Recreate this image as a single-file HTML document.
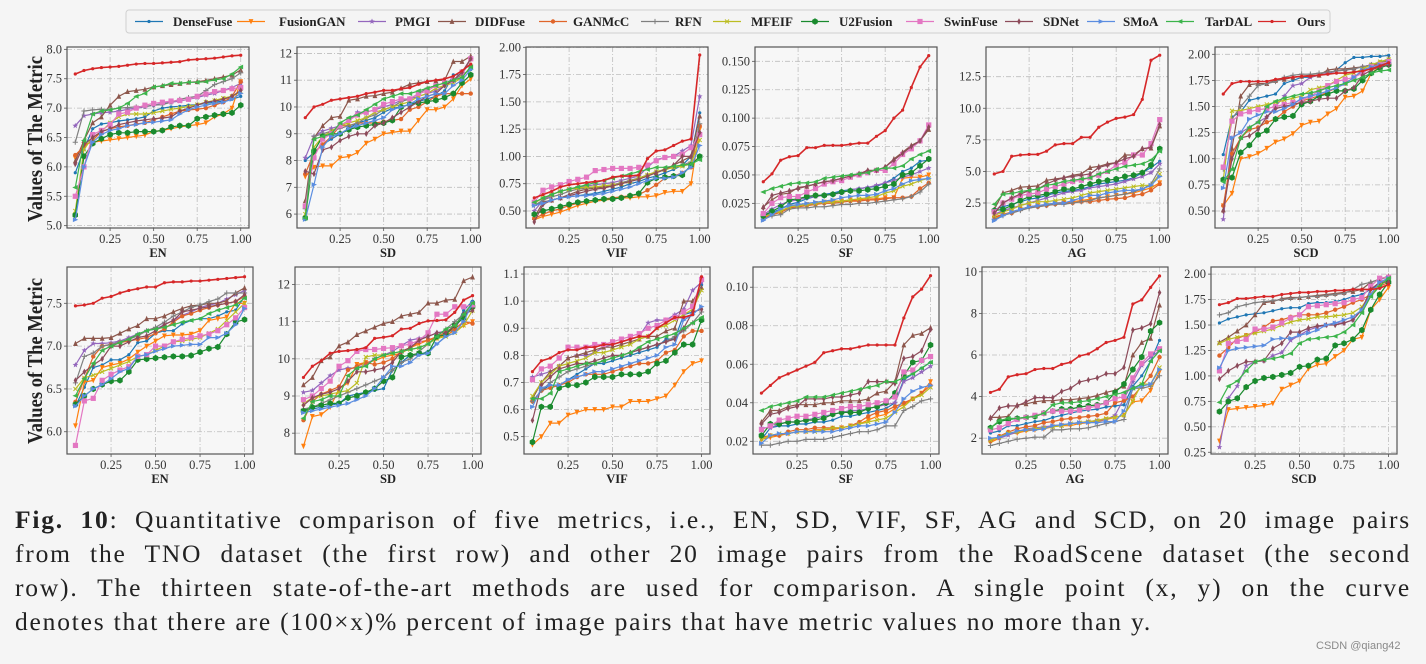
<!DOCTYPE html>
<html><head><meta charset="utf-8">
<style>
html,body{margin:0;padding:0;background:#f5f5f5;}
#root{position:relative;width:1426px;height:664px;overflow:hidden;background:#f5f5f5;font-family:"Liberation Serif",serif;}
svg{position:absolute;left:0;top:0;}
.cap{position:absolute;left:15px;width:1396px;font-size:25.5px;letter-spacing:1.8px;color:#222;font-family:"Liberation Serif",serif;white-space:nowrap;text-align:justify;text-align-last:justify;line-height:30px;}
.cap b{font-weight:bold;}
#wm{position:absolute;left:1316px;top:640px;font:11px "Liberation Sans",sans-serif;color:#8a8a8a;}
</style></head>
<body>
<div id="root">
<svg id="chart" width="1426" height="500"></svg>
<div class="cap" style="top:505px"><b>Fig. 10</b>: Quantitative comparison of five metrics, i.e., EN, SD, VIF, SF, AG and SCD, on 20 image pairs</div>
<div class="cap" style="top:539px">from the TNO dataset (the first row) and other 20 image pairs from the RoadScene dataset (the second</div>
<div class="cap" style="top:573px">row). The thirteen state-of-the-art methods are used for comparison. A single point (x, y) on the curve</div>
<div class="cap" style="top:607px;width:auto;text-align:left;text-align-last:left;">denotes that there are (100×x)% percent of image pairs that have metric values no more than y.</div>
<div id="wm">CSDN @qiang42</div>
</div>
<script>
const methods=["DenseFuse","FusionGAN","PMGI","DIDFuse","GANMcC","RFN","MFEIF","U2Fusion","SwinFuse","SDNet","SMoA","TarDAL","Ours"];
const xValues=[0.05,0.10,0.15,0.20,0.25,0.30,0.35,0.40,0.45,0.50,0.55,0.60,0.65,0.70,0.75,0.80,0.85,0.90,0.95,1.00];
const xTicks=[0.25,0.50,0.75,1.00];
const xTickLabels=["0.25","0.50","0.75","1.00"];
const metricNames=["EN","SD","VIF","SF","AG","SCD"];
const yDomainsRow1=[[4.96,8.04],[5.48,12.24],[0.344,2.003],[0.0033,0.1626],[0.52,14.85],[0.337,2.07]];
const yDomainsRow2=[[5.74,7.924],[7.44,12.47],[0.436,1.126],[0.0134,0.1105],[1.24,10.23],[0.233,2.07]];
const yTicksRow1=[[5.0,5.5,6.0,6.5,7.0,7.5,8.0],[6,7,8,9,10,11,12],[0.5,0.75,1.0,1.25,1.5,1.75,2.0],[0.025,0.05,0.075,0.1,0.125,0.15],[2.5,5,7.5,10,12.5],[0.5,0.75,1.0,1.25,1.5,1.75,2.0]];
const yTickLabelsRow1=[["5.0","5.5","6.0","6.5","7.0","7.5","8.0"],["6","7","8","9","10","11","12"],["0.50","0.75","1.00","1.25","1.50","1.75","2.00"],["0.025","0.050","0.075","0.100","0.125","0.150"],["2.5","5.0","7.5","10.0","12.5"],["0.50","0.75","1.00","1.25","1.50","1.75","2.00"]];
const yTicksRow2=[[6.0,6.5,7.0,7.5],[8,9,10,11,12],[0.5,0.6,0.7,0.8,0.9,1.0,1.1],[0.02,0.04,0.06,0.08,0.10],[2,4,6,8,10],[0.25,0.5,0.75,1.0,1.25,1.5,1.75,2.0]];
const yTickLabelsRow2=[["6.0","6.5","7.0","7.5"],["8","9","10","11","12"],["0.5","0.6","0.7","0.8","0.9","1.0","1.1"],["0.02","0.04","0.06","0.08","0.10"],["2","4","6","8","10"],["0.25","0.50","0.75","1.00","1.25","1.50","1.75","2.00"]];

const enTNO=[
[5.9,6.3,6.65,6.73,6.75,6.78,6.8,6.82,6.85,6.95,7.0,7.02,7.03,7.05,7.06,7.08,7.1,7.12,7.15,7.2],
[6.15,6.38,6.42,6.44,6.46,6.48,6.5,6.52,6.54,6.6,6.62,6.65,6.68,6.7,6.72,6.75,6.85,6.9,7.0,7.45],
[6.7,6.87,6.9,6.92,6.93,6.95,6.98,7.0,7.02,7.05,7.08,7.1,7.12,7.15,7.18,7.22,7.25,7.3,7.35,7.42],
[6.1,6.45,6.75,6.85,7.05,7.2,7.28,7.3,7.32,7.36,7.38,7.4,7.42,7.44,7.45,7.47,7.5,7.53,7.56,7.65],
[6.2,6.35,6.45,6.6,6.65,6.68,6.7,6.73,6.75,6.8,6.85,6.9,6.95,6.97,6.98,7.0,7.05,7.1,7.2,7.45],
[6.42,6.95,6.97,6.98,6.98,7.0,7.01,7.02,7.03,7.05,7.06,7.1,7.15,7.18,7.2,7.3,7.4,7.45,7.5,7.6],
[5.25,6.3,6.5,6.6,6.75,6.85,6.9,6.9,6.9,6.92,6.95,6.98,7.0,7.03,7.06,7.1,7.13,7.17,7.2,7.28],
[5.18,6.18,6.4,6.48,6.55,6.58,6.58,6.6,6.6,6.6,6.62,6.68,6.7,6.7,6.82,6.85,6.88,6.9,6.92,7.05],
[5.5,6.0,6.55,6.62,6.72,6.9,6.93,7.0,7.05,7.08,7.1,7.12,7.13,7.15,7.2,7.24,7.28,7.3,7.33,7.35],
[6.05,6.38,6.5,6.6,6.65,6.72,6.75,6.78,6.8,6.82,6.83,6.85,6.95,7.0,7.05,7.1,7.12,7.15,7.2,7.3],
[5.1,6.0,6.42,6.55,6.62,6.65,6.7,6.72,6.75,6.76,6.78,6.8,6.9,6.97,7.02,7.05,7.08,7.1,7.15,7.25],
[5.65,6.45,6.9,6.95,6.97,7.0,7.08,7.2,7.25,7.36,7.38,7.42,7.42,7.44,7.44,7.45,7.48,7.5,7.58,7.7],
[7.58,7.64,7.67,7.69,7.7,7.71,7.73,7.75,7.76,7.76,7.77,7.78,7.79,7.82,7.83,7.84,7.85,7.87,7.89,7.9]];
const sdTNO=[
[8.0,8.3,8.6,8.8,9.0,9.2,9.4,9.5,9.6,9.8,9.95,10.0,10.1,10.2,10.3,10.4,10.6,11.2,11.2,11.4],
[7.4,7.75,7.8,7.8,8.1,8.15,8.3,8.65,8.8,9.0,9.05,9.1,9.1,9.5,9.9,9.9,10.0,10.3,10.8,11.05],
[8.1,8.9,9.1,9.2,9.3,9.5,9.8,9.8,9.9,10.0,10.1,10.25,10.3,10.4,10.5,10.6,10.8,11.0,11.3,11.8],
[6.5,8.85,9.3,9.6,9.65,10.25,10.3,10.4,10.42,10.5,10.55,10.7,10.85,10.9,10.95,10.98,11.0,11.7,11.7,11.9],
[7.5,8.3,8.6,8.9,9.3,9.3,9.4,9.4,9.4,9.45,9.5,9.55,9.9,10.0,10.2,10.4,10.5,10.5,10.5,10.5],
[6.2,8.9,9.0,9.1,9.2,9.3,9.4,9.6,9.7,9.9,10.0,10.2,10.3,10.5,10.7,10.8,10.9,11.0,11.2,11.8],
[6.0,8.5,8.9,9.1,9.3,9.4,9.5,9.6,9.8,9.9,10.0,10.1,10.2,10.4,10.5,10.7,10.8,10.9,11.1,11.5],
[5.85,8.35,8.9,9.0,9.0,9.15,9.25,9.3,9.35,9.4,9.5,10.0,10.1,10.15,10.2,10.25,10.35,10.5,10.9,11.2],
[6.3,8.1,8.8,9.0,9.3,9.5,9.7,9.8,9.9,10.1,10.2,10.3,10.3,10.5,10.6,10.8,10.9,11.0,11.3,11.8],
[7.6,7.5,8.4,8.5,8.75,8.9,9.0,9.0,9.3,9.4,9.6,9.8,10.0,10.2,10.4,10.5,10.8,11.0,11.3,11.8],
[5.8,7.1,8.5,8.9,9.0,9.2,9.3,9.4,9.5,9.6,9.9,10.0,10.1,10.3,10.4,10.5,10.5,10.8,11.0,11.4],
[5.85,8.8,8.9,9.0,9.4,9.6,9.7,9.9,10.1,10.3,10.4,10.5,10.5,10.6,10.7,10.8,10.9,11.0,11.1,11.5],
[9.6,10.0,10.1,10.25,10.3,10.35,10.4,10.5,10.55,10.62,10.62,10.68,10.72,10.85,10.95,11.0,11.05,11.15,11.35,11.6]];
const vifTNO=[
[0.56,0.58,0.6,0.62,0.63,0.64,0.65,0.66,0.68,0.7,0.72,0.75,0.77,0.8,0.82,0.85,0.88,0.92,1.0,1.4],
[0.42,0.45,0.47,0.49,0.52,0.55,0.57,0.59,0.6,0.61,0.62,0.62,0.63,0.63,0.64,0.67,0.68,0.68,0.75,1.25],
[0.5,0.6,0.65,0.68,0.7,0.72,0.73,0.74,0.75,0.76,0.78,0.8,0.82,0.9,0.97,0.99,1.0,1.05,1.1,1.55],
[0.44,0.58,0.6,0.62,0.65,0.68,0.7,0.71,0.72,0.73,0.75,0.78,0.8,0.83,0.85,0.88,0.92,0.96,1.0,1.37],
[0.43,0.47,0.5,0.52,0.55,0.57,0.59,0.6,0.61,0.62,0.63,0.64,0.65,0.69,0.74,0.8,0.82,0.85,0.9,1.28],
[0.55,0.6,0.63,0.65,0.68,0.7,0.71,0.72,0.73,0.74,0.76,0.78,0.8,0.83,0.86,0.88,0.9,0.92,0.95,1.3],
[0.57,0.62,0.65,0.68,0.7,0.71,0.72,0.72,0.73,0.74,0.75,0.77,0.8,0.83,0.86,0.88,0.9,0.91,0.93,1.15],
[0.47,0.5,0.52,0.54,0.56,0.58,0.59,0.6,0.61,0.61,0.62,0.64,0.66,0.76,0.8,0.81,0.82,0.83,0.92,1.0],
[0.58,0.69,0.72,0.74,0.77,0.79,0.81,0.87,0.88,0.89,0.89,0.89,0.9,0.92,0.96,0.99,1.0,1.02,1.08,1.2],
[0.4,0.56,0.6,0.62,0.64,0.66,0.68,0.7,0.71,0.73,0.75,0.77,0.79,0.82,0.85,0.88,0.92,1.0,1.0,1.22],
[0.55,0.57,0.6,0.62,0.63,0.64,0.64,0.65,0.66,0.68,0.7,0.72,0.75,0.78,0.8,0.8,0.81,0.85,0.9,1.1],
[0.58,0.62,0.65,0.68,0.7,0.72,0.74,0.76,0.78,0.8,0.82,0.84,0.86,0.88,0.9,0.9,0.91,0.92,0.93,0.97],
[0.62,0.65,0.68,0.72,0.74,0.75,0.76,0.77,0.78,0.81,0.82,0.82,0.83,0.98,1.05,1.06,1.1,1.14,1.16,1.93]];
const sfTNO=[
[.013,.017,.02,.024,.026,.029,.031,.033,.034,.036,.037,.038,.039,.04,.043,.047,.053,.056,.062,.063],
[.012,.016,.018,.022,.023,.024,.025,.026,.027,.027,.028,.028,.029,.029,.03,.03,.047,.048,.048,.05],
[.015,.02,.024,.027,.028,.03,.031,.032,.033,.034,.037,.038,.039,.041,.043,.045,.048,.05,.053,.056],
[.022,.028,.033,.034,.039,.04,.042,.044,.045,.047,.049,.051,.053,.054,.057,.064,.07,.076,.08,.09],
[.012,.015,.017,.021,.022,.023,.024,.025,.025,.026,.027,.027,.028,.028,.029,.03,.03,.031,.038,.043],
[.011,.014,.015,.02,.021,.021,.022,.022,.023,.024,.024,.025,.025,.026,.027,.028,.029,.031,.035,.042],
[.013,.016,.018,.022,.023,.024,.025,.026,.026,.027,.028,.029,.03,.031,.034,.036,.04,.042,.045,.047],
[.014,.018,.022,.028,.029,.031,.032,.032,.033,.035,.036,.036,.037,.038,.04,.042,.05,.052,.058,.064],
[.016,.025,.03,.031,.031,.035,.038,.042,.044,.045,.048,.05,.052,.054,.054,.06,.068,.073,.08,.094],
[.021,.032,.034,.036,.038,.04,.042,.044,.045,.047,.049,.051,.054,.054,.057,.063,.069,.075,.08,.092],
[.01,.015,.02,.023,.024,.025,.026,.027,.028,.03,.031,.032,.032,.033,.036,.038,.042,.045,.046,.047],
[.035,.038,.04,.042,.043,.043,.044,.047,.048,.049,.05,.051,.052,.055,.056,.056,.058,.064,.068,.071],
[.044,.051,.063,.066,.067,.074,.074,.076,.076,.076,.077,.078,.078,.084,.089,.1,.107,.127,.145,.155]];
const agTNO=[
[2.0,2.2,2.4,2.6,2.8,2.9,3.1,3.3,3.4,3.5,3.6,3.8,4.0,4.1,4.2,4.3,4.5,4.9,5.3,5.8],
[1.3,1.6,1.8,2.0,2.2,2.3,2.35,2.5,2.55,2.6,2.7,2.8,2.9,3.0,3.1,3.2,3.3,3.5,3.7,4.1],
[1.6,1.9,2.1,2.3,2.5,2.7,2.9,3.1,3.3,3.4,3.5,3.7,3.8,3.9,4.0,4.2,4.4,4.6,4.9,5.6],
[2.0,3.3,3.5,3.75,3.8,3.85,4.3,4.4,4.5,4.7,4.8,5.3,5.4,5.6,5.7,6.3,6.3,6.8,6.85,8.6],
[1.4,1.6,1.7,2.0,2.2,2.2,2.3,2.4,2.5,2.5,2.6,2.6,2.7,2.8,2.85,2.9,3.1,3.2,3.5,4.0],
[1.2,1.5,1.7,1.9,2.1,2.2,2.3,2.4,2.4,2.5,2.6,2.7,2.9,3.0,3.1,3.2,3.4,3.6,4.0,5.2],
[1.5,1.8,2.0,2.3,2.5,2.6,2.6,2.7,2.8,2.9,3.1,3.3,3.4,3.5,3.6,3.7,3.8,3.9,3.9,4.8],
[1.9,2.0,2.3,2.7,3.0,3.1,3.2,3.4,3.6,3.6,3.8,4.0,4.2,4.3,4.4,4.6,4.7,4.9,5.5,6.8],
[1.8,2.5,2.8,3.1,3.2,3.3,3.6,3.8,4.0,4.2,4.3,4.5,4.7,5.0,5.5,5.7,6.3,6.3,7.2,9.1],
[1.7,2.5,2.9,3.2,3.5,3.6,4.0,4.3,4.5,4.6,4.7,4.8,5.3,5.5,5.7,6.0,6.2,6.8,6.9,8.7],
[1.1,1.5,1.8,2.0,2.2,2.3,2.4,2.5,2.5,2.7,2.9,3.1,3.1,3.3,3.4,3.5,3.5,3.6,3.9,4.6],
[2.4,3.2,3.25,3.4,3.5,3.6,3.9,4.0,4.2,4.3,4.4,4.5,4.8,5.0,5.2,5.4,5.5,5.6,5.9,6.6],
[4.8,5.0,6.2,6.3,6.35,6.35,6.6,7.1,7.2,7.2,7.7,7.7,8.5,8.9,9.2,9.3,9.5,10.7,13.8,14.2]];
const scdTNO=[
[1.04,1.4,1.45,1.56,1.58,1.6,1.62,1.72,1.75,1.78,1.78,1.8,1.81,1.85,1.92,1.97,1.97,1.98,1.98,1.99],
[0.55,0.67,1.0,1.02,1.05,1.1,1.16,1.19,1.24,1.32,1.35,1.36,1.43,1.48,1.59,1.6,1.65,1.82,1.88,1.92],
[0.42,1.2,1.25,1.3,1.35,1.4,1.5,1.6,1.7,1.72,1.78,1.8,1.82,1.84,1.85,1.86,1.88,1.9,1.92,1.94],
[0.51,1.1,1.6,1.71,1.72,1.72,1.75,1.76,1.78,1.79,1.8,1.8,1.85,1.86,1.86,1.87,1.88,1.9,1.92,1.96],
[0.55,1.05,1.2,1.28,1.3,1.35,1.38,1.45,1.5,1.55,1.58,1.6,1.64,1.68,1.72,1.78,1.84,1.88,1.92,1.94],
[0.9,1.38,1.5,1.6,1.7,1.72,1.74,1.78,1.8,1.81,1.81,1.82,1.83,1.84,1.85,1.86,1.88,1.9,1.92,1.95],
[0.8,1.46,1.46,1.48,1.5,1.52,1.54,1.56,1.58,1.6,1.66,1.68,1.7,1.75,1.8,1.82,1.86,1.9,1.93,1.95],
[0.8,0.82,1.06,1.13,1.23,1.27,1.38,1.4,1.41,1.52,1.55,1.6,1.62,1.65,1.65,1.67,1.75,1.82,1.87,1.9],
[0.92,1.36,1.43,1.45,1.47,1.48,1.5,1.52,1.54,1.56,1.6,1.65,1.7,1.74,1.76,1.78,1.82,1.88,1.9,1.93],
[0.5,1.0,1.2,1.22,1.28,1.4,1.48,1.5,1.52,1.54,1.55,1.57,1.58,1.58,1.65,1.68,1.8,1.85,1.88,1.9],
[0.72,1.2,1.25,1.38,1.42,1.45,1.45,1.48,1.52,1.58,1.6,1.62,1.65,1.68,1.72,1.78,1.85,1.88,1.9,1.92],
[0.78,0.9,1.2,1.3,1.35,1.5,1.55,1.58,1.6,1.62,1.63,1.65,1.68,1.7,1.72,1.75,1.78,1.82,1.84,1.85],
[1.62,1.72,1.74,1.74,1.74,1.74,1.76,1.77,1.78,1.79,1.79,1.8,1.81,1.82,1.82,1.83,1.84,1.86,1.89,1.92]];
const enRoad=[
[6.3,6.52,6.75,6.78,6.84,6.84,6.9,7.04,7.06,7.15,7.18,7.18,7.26,7.3,7.32,7.32,7.35,7.4,7.42,7.58],
[6.07,6.58,6.6,6.75,6.78,6.8,6.85,6.93,7.0,7.06,7.12,7.13,7.13,7.14,7.18,7.3,7.32,7.34,7.5,7.5],
[6.78,6.95,7.03,7.03,7.04,7.06,7.1,7.14,7.18,7.2,7.25,7.3,7.36,7.4,7.45,7.48,7.5,7.55,7.6,7.65],
[7.03,7.09,7.09,7.09,7.1,7.15,7.2,7.24,7.32,7.32,7.35,7.4,7.44,7.47,7.48,7.5,7.5,7.53,7.62,7.68],
[6.35,6.62,6.88,7.0,7.02,7.04,7.06,7.08,7.1,7.15,7.2,7.28,7.35,7.38,7.42,7.45,7.48,7.5,7.52,7.58],
[6.57,6.88,6.92,7.0,7.02,7.05,7.08,7.12,7.18,7.22,7.28,7.35,7.4,7.45,7.48,7.52,7.55,7.62,7.62,7.62],
[6.5,6.63,6.66,6.7,6.74,6.78,6.82,6.88,6.9,6.95,7.0,7.05,7.06,7.08,7.1,7.15,7.2,7.3,7.4,7.5],
[6.32,6.42,6.5,6.55,6.59,6.6,6.7,6.84,6.85,6.86,6.87,6.88,6.88,6.89,6.93,6.97,6.99,7.14,7.28,7.31],
[5.84,6.36,6.39,6.6,6.67,6.72,6.76,6.88,6.9,7.0,7.0,7.05,7.08,7.1,7.12,7.14,7.18,7.25,7.33,7.45],
[6.6,6.7,6.78,6.85,7.0,7.0,7.05,7.1,7.12,7.18,7.25,7.3,7.4,7.42,7.44,7.46,7.48,7.5,7.52,7.6],
[6.3,6.42,6.5,6.55,6.62,6.7,6.74,6.88,6.9,6.94,6.97,7.0,7.01,7.02,7.02,7.1,7.1,7.15,7.25,7.44],
[6.42,6.62,6.8,6.95,7.0,7.04,7.08,7.14,7.18,7.2,7.22,7.25,7.28,7.3,7.32,7.38,7.42,7.45,7.48,7.56],
[7.47,7.48,7.5,7.56,7.58,7.62,7.65,7.67,7.69,7.69,7.74,7.75,7.75,7.76,7.76,7.77,7.78,7.79,7.8,7.81]];
const sdRoad=[
[8.6,8.65,8.7,8.75,8.8,9.0,9.05,9.1,9.15,9.2,9.7,9.9,10.1,10.1,10.2,10.4,10.6,10.8,11.3,11.55],
[7.65,8.45,8.5,8.7,9.2,9.35,9.85,9.9,9.95,10.05,10.1,10.15,10.3,10.4,10.5,10.55,10.65,10.75,10.9,11.0],
[9.1,9.15,9.35,9.55,9.7,9.75,9.75,9.85,10.0,10.1,10.2,10.35,10.5,10.55,10.6,10.7,10.75,10.8,11.2,11.5],
[9.3,9.5,9.95,10.05,10.35,10.45,10.65,10.75,10.85,10.95,11.0,11.15,11.2,11.25,11.5,11.5,11.58,11.6,12.1,12.2],
[8.35,8.85,9.05,9.15,9.25,9.7,9.8,9.9,9.85,9.9,10.0,10.2,10.3,10.45,10.5,10.6,10.7,10.8,11.0,10.95],
[8.65,8.7,8.8,8.9,9.0,9.1,9.2,9.3,9.4,9.5,9.7,9.9,10.0,10.2,10.4,10.6,10.8,11.0,11.2,11.4],
[8.8,8.95,9.0,9.05,9.1,9.15,9.35,10.05,10.1,10.1,10.15,10.2,10.25,10.3,10.4,10.55,10.6,10.7,10.9,11.3],
[8.6,8.7,8.75,8.8,8.8,8.95,9.0,9.1,9.2,9.4,9.5,10.05,10.1,10.15,10.15,10.6,10.65,10.9,11.1,11.4],
[8.9,9.0,9.2,9.4,9.8,9.95,10.2,10.25,10.25,10.28,10.3,10.35,10.4,10.5,10.7,11.2,11.2,11.4,11.4,11.45],
[8.75,8.95,9.05,9.1,9.2,9.4,9.65,9.65,9.7,9.75,9.9,10.2,10.3,10.5,10.6,10.7,10.7,10.9,11.2,11.3],
[8.55,8.6,8.65,8.7,8.75,8.8,8.9,9.0,9.2,9.5,9.8,9.8,9.9,10.1,10.15,10.4,10.6,10.7,11.0,11.5],
[8.4,8.85,8.9,9.0,9.0,9.55,9.75,9.8,10.0,10.1,10.15,10.2,10.25,10.3,10.4,10.6,10.8,10.9,11.2,11.5],
[9.5,9.8,9.95,10.15,10.2,10.22,10.25,10.3,10.55,10.58,10.62,10.8,10.82,10.95,11.02,11.03,11.05,11.25,11.58,11.7]];
const vifRoad=[
[0.63,0.67,0.69,0.69,0.71,0.73,0.75,0.77,0.77,0.78,0.79,0.8,0.81,0.82,0.83,0.86,0.86,0.95,0.96,1.06],
[0.47,0.5,0.55,0.55,0.58,0.59,0.6,0.6,0.6,0.61,0.61,0.63,0.63,0.63,0.64,0.65,0.69,0.74,0.77,0.78],
[0.72,0.73,0.74,0.76,0.79,0.8,0.8,0.81,0.83,0.84,0.85,0.86,0.87,0.92,0.93,0.93,0.95,0.97,1.04,1.07],
[0.64,0.7,0.74,0.76,0.79,0.8,0.81,0.82,0.83,0.83,0.84,0.85,0.86,0.87,0.87,0.89,0.9,1.0,1.0,1.05],
[0.63,0.67,0.68,0.69,0.7,0.72,0.73,0.73,0.73,0.74,0.75,0.76,0.77,0.77,0.78,0.81,0.82,0.87,0.89,0.89],
[0.63,0.67,0.7,0.72,0.74,0.75,0.76,0.77,0.78,0.79,0.8,0.81,0.82,0.83,0.84,0.85,0.87,0.89,0.92,0.96],
[0.65,0.7,0.73,0.76,0.77,0.78,0.79,0.81,0.81,0.82,0.83,0.84,0.86,0.87,0.9,0.91,0.93,0.95,0.97,1.04],
[0.48,0.61,0.61,0.68,0.69,0.69,0.7,0.72,0.72,0.72,0.73,0.73,0.73,0.74,0.77,0.78,0.81,0.84,0.84,0.93],
[0.71,0.75,0.76,0.79,0.83,0.83,0.83,0.84,0.84,0.85,0.86,0.87,0.88,0.9,0.91,0.93,0.94,0.96,0.98,1.08],
[0.56,0.69,0.72,0.75,0.76,0.77,0.77,0.78,0.79,0.8,0.8,0.81,0.82,0.83,0.84,0.85,0.86,0.9,0.96,0.97],
[0.61,0.68,0.69,0.69,0.71,0.72,0.73,0.74,0.74,0.75,0.76,0.77,0.78,0.79,0.8,0.83,0.84,0.93,0.95,0.98],
[0.64,0.64,0.66,0.74,0.75,0.76,0.77,0.77,0.78,0.79,0.8,0.81,0.83,0.85,0.86,0.87,0.88,0.9,0.92,0.94],
[0.74,0.78,0.79,0.81,0.82,0.82,0.83,0.83,0.84,0.84,0.85,0.86,0.87,0.87,0.9,0.92,0.94,0.94,0.95,1.09]];
const sfRoad=[
[.021,.027,.028,.028,.029,.029,.03,.03,.031,.033,.033,.034,.035,.036,.037,.04,.052,.055,.058,.061],
[.021,.022,.023,.024,.025,.025,.026,.026,.026,.027,.028,.029,.031,.033,.034,.037,.039,.042,.045,.051],
[.027,.027,.029,.03,.03,.031,.032,.033,.034,.035,.036,.036,.037,.038,.039,.04,.051,.053,.056,.059],
[.03,.036,.036,.038,.039,.039,.039,.04,.04,.041,.041,.041,.042,.045,.046,.051,.07,.075,.076,.079],
[.022,.023,.023,.025,.026,.026,.027,.027,.027,.027,.028,.03,.033,.035,.036,.038,.04,.042,.045,.049],
[.018,.018,.019,.02,.02,.021,.021,.021,.022,.023,.024,.025,.025,.026,.028,.028,.036,.038,.041,.042],
[.021,.023,.024,.024,.025,.025,.025,.026,.027,.027,.028,.029,.03,.031,.032,.035,.038,.042,.044,.048],
[.023,.029,.029,.03,.03,.031,.031,.032,.034,.035,.035,.035,.037,.038,.04,.045,.054,.061,.062,.07],
[.026,.028,.031,.032,.033,.033,.034,.035,.036,.037,.038,.038,.039,.04,.041,.043,.056,.057,.062,.064],
[.029,.034,.035,.037,.038,.042,.042,.042,.043,.043,.044,.045,.051,.051,.051,.05,.063,.064,.067,.078],
[.019,.023,.024,.024,.025,.025,.025,.025,.025,.026,.027,.028,.028,.029,.03,.035,.042,.046,.048,.049],
[.036,.038,.039,.04,.041,.043,.043,.043,.044,.045,.046,.047,.048,.049,.051,.051,.053,.055,.058,.061],
[.045,.049,.053,.055,.057,.059,.061,.066,.067,.068,.068,.069,.07,.07,.07,.07,.084,.095,.099,.106]];
const agRoad=[
[2.25,2.35,2.6,2.6,2.7,2.8,2.85,3.0,3.1,3.2,3.3,3.35,3.4,3.5,3.55,3.6,4.5,5.0,5.7,6.7],
[1.8,2.0,2.2,2.25,2.35,2.4,2.45,2.55,2.6,2.6,2.7,2.75,2.8,2.9,3.0,3.1,3.75,3.8,4.3,5.2],
[1.95,2.0,2.15,2.3,2.45,2.5,2.55,2.6,2.65,2.7,2.75,2.8,2.85,2.9,3.1,3.9,4.7,5.5,5.9,6.2],
[3.0,3.0,3.05,3.6,3.65,3.75,3.8,3.8,3.85,3.85,3.9,3.95,4.05,4.2,4.3,4.5,6.0,6.6,6.8,8.4],
[1.85,2.1,2.3,2.45,2.55,2.6,2.75,2.8,2.9,2.95,3.0,3.05,3.1,3.2,3.7,3.8,4.0,4.5,5.0,5.9],
[1.65,1.75,1.85,1.95,2.0,2.05,2.05,2.4,2.4,2.45,2.45,2.5,2.6,2.7,2.8,2.9,4.4,4.4,4.5,5.0],
[1.9,2.05,2.25,2.3,2.4,2.45,2.5,2.55,2.6,2.7,2.75,2.8,2.85,2.95,3.0,3.1,3.8,4.6,4.6,5.4],
[2.5,2.8,2.9,2.95,3.0,3.05,3.2,3.3,3.4,3.4,3.5,3.55,3.6,3.7,4.2,4.6,5.3,5.9,7.15,7.55],
[2.4,2.5,2.7,2.9,3.0,3.1,3.2,3.3,3.3,3.3,3.35,3.45,3.55,3.7,3.9,4.0,4.9,5.6,6.05,6.3],
[2.95,3.45,3.55,3.55,3.75,3.95,3.95,3.95,4.25,4.4,4.7,4.8,4.9,5.1,5.1,5.4,7.2,7.3,7.5,9.0],
[2.0,2.05,2.2,2.35,2.4,2.4,2.45,2.6,2.65,2.7,2.75,2.75,2.75,2.8,2.8,3.3,4.4,4.5,4.6,5.3],
[2.5,2.85,2.95,2.95,3.0,3.05,3.2,3.6,3.7,3.7,3.75,3.8,3.9,4.0,4.1,4.2,4.4,4.6,5.7,6.2],
[4.2,4.35,4.95,5.05,5.1,5.3,5.35,5.35,5.55,5.65,5.95,6.05,6.3,6.6,6.7,6.85,8.45,8.65,9.25,9.8]];
const scdRoad=[
[1.52,1.56,1.58,1.6,1.61,1.62,1.64,1.66,1.67,1.67,1.71,1.72,1.72,1.73,1.75,1.78,1.8,1.85,1.9,1.95],
[0.36,0.67,0.68,0.69,0.7,0.71,0.73,0.87,0.91,0.95,1.07,1.11,1.12,1.19,1.25,1.36,1.38,1.65,1.75,1.87],
[0.3,0.78,0.9,1.1,1.14,1.15,1.2,1.23,1.35,1.4,1.45,1.48,1.5,1.52,1.52,1.55,1.65,1.8,1.92,1.96],
[1.33,1.38,1.44,1.5,1.6,1.72,1.73,1.76,1.77,1.77,1.78,1.79,1.8,1.81,1.82,1.83,1.85,1.92,1.95,1.98],
[1.2,1.28,1.37,1.4,1.43,1.48,1.54,1.55,1.58,1.6,1.6,1.6,1.62,1.65,1.68,1.72,1.75,1.8,1.88,1.92],
[1.6,1.62,1.68,1.7,1.72,1.73,1.74,1.75,1.76,1.77,1.78,1.78,1.79,1.8,1.81,1.85,1.9,1.92,1.95,1.97],
[1.32,1.36,1.38,1.4,1.42,1.44,1.46,1.5,1.53,1.55,1.56,1.58,1.58,1.59,1.6,1.62,1.68,1.8,1.9,1.95],
[0.65,0.75,0.78,0.89,0.95,0.98,0.99,1.01,1.03,1.09,1.1,1.16,1.17,1.3,1.32,1.36,1.45,1.65,1.8,1.92],
[1.05,1.32,1.34,1.36,1.46,1.46,1.48,1.52,1.57,1.6,1.68,1.69,1.7,1.71,1.72,1.75,1.77,1.88,1.96,1.97],
[0.97,1.05,1.1,1.14,1.14,1.15,1.27,1.32,1.43,1.43,1.47,1.49,1.5,1.5,1.52,1.55,1.65,1.85,1.92,1.92],
[1.08,1.25,1.27,1.28,1.29,1.3,1.36,1.37,1.37,1.4,1.42,1.45,1.5,1.52,1.55,1.58,1.65,1.8,1.92,1.96],
[0.74,0.9,0.95,1.05,1.14,1.16,1.17,1.19,1.22,1.32,1.36,1.37,1.38,1.39,1.43,1.5,1.62,1.78,1.88,1.96],
[1.7,1.72,1.76,1.76,1.77,1.78,1.78,1.8,1.81,1.82,1.82,1.83,1.83,1.84,1.84,1.85,1.85,1.85,1.86,1.9]];

const row1Data=[enTNO,sdTNO,vifTNO,sfTNO,agTNO,scdTNO];
const row2Data=[enRoad,sdRoad,vifRoad,sfRoad,agRoad,scdRoad];

const colors=["#1f77b4","#ff7f0e","#9467bd","#8c564b","#e0652a","#7f7f7f","#bcbd22","#1a8a2e","#e377c2","#8c4b5a","#5b8de0","#3cb44b","#d62728"];
const markers=["dot","tri-down","star","tri-up","circle","plus","x","hex","square","diamond","tri-right","tri-left","dot"];

const NS="http://www.w3.org/2000/svg";
const svg=document.getElementById('chart');
function el(tag,attrs,parent){const e=document.createElementNS(NS,tag);for(const k in attrs)e.setAttribute(k,attrs[k]);(parent||svg).appendChild(e);return e;}

function marker(g,kind,x,y,c){
  let m;
  const r=2.4;
  if(kind==="dot"){m=el('circle',{cx:x,cy:y,r:1.6,fill:c},g);}
  else if(kind==="circle"){m=el('circle',{cx:x,cy:y,r:2.2,fill:c},g);}
  else if(kind==="hex"){const p=[];for(let i=0;i<6;i++){const a=Math.PI/3*i+Math.PI/6;p.push((x+3.2*Math.cos(a)).toFixed(1)+','+(y+3.2*Math.sin(a)).toFixed(1));}m=el('polygon',{points:p.join(' '),fill:c},g);}
  else if(kind==="square"){m=el('rect',{x:x-2.6,y:y-2.6,width:5.2,height:5.2,fill:c},g);}
  else if(kind==="diamond"){m=el('polygon',{points:`${x},${y-3.2} ${x+1.8},${y} ${x},${y+3.2} ${x-1.8},${y}`,fill:c},g);}
  else if(kind==="tri-up"){m=el('polygon',{points:`${x},${y-r-0.6} ${x+r},${y+r} ${x-r},${y+r}`,fill:c},g);}
  else if(kind==="tri-down"){m=el('polygon',{points:`${x},${y+r+0.6} ${x+r},${y-r} ${x-r},${y-r}`,fill:c},g);}
  else if(kind==="tri-right"){m=el('polygon',{points:`${x+r+0.6},${y} ${x-r},${y-r} ${x-r},${y+r}`,fill:c},g);}
  else if(kind==="tri-left"){m=el('polygon',{points:`${x-r-0.6},${y} ${x+r},${y-r} ${x+r},${y+r}`,fill:c},g);}
  else if(kind==="plus"){m=el('path',{d:`M${x-2.6},${y}H${x+2.6}M${x},${y-2.6}V${y+2.6}`,stroke:c,'stroke-width':1,fill:'none'},g);}
  else if(kind==="x"){m=el('path',{d:`M${x-2},${y-2}L${x+2},${y+2}M${x-2},${y+2}L${x+2},${y-2}`,stroke:c,'stroke-width':1,fill:'none'},g);}
  else if(kind==="star"){const p=[];for(let i=0;i<10;i++){const a=-Math.PI/2+Math.PI/5*i;const rr=i%2?1.3:3;p.push((x+rr*Math.cos(a)).toFixed(1)+','+(y+rr*Math.sin(a)).toFixed(1));}m=el('polygon',{points:p.join(' '),fill:c},g);}
  return m;
}

const row1Left=[67,297,526,755,986,1215];
const row2Left=[67,295,524,753,982,1211];

function drawPanel(idx,row,left,top,w,h,dom,ticks,tlabels,data){
  const g=el('g',{});
  
  
  const xLo=0.0025,xHi=1.0475;
  const sx=v=>left+(v-xLo)/(xHi-xLo)*w;
  const sy=v=>top+h-(v-dom[0])/(dom[1]-dom[0])*h;
  el('rect',{x:left,y:top,width:w,height:h,fill:'#f7f7f7'},g);
  xTicks.forEach((t,i)=>{
    const X=sx(t);
    const gl=el('line',{x1:X,x2:X,y1:top,y2:top+h,stroke:'#bdbdbd','stroke-width':0.8,'stroke-dasharray':'5,2,1,2'},g);
    
    
    el('line',{x1:X,x2:X,y1:top+h,y2:top+h+3,stroke:'#555','stroke-width':0.8},g);
    const tx=el('text',{x:X,y:top+h+15,'font-size':12.5,'text-anchor':'middle',fill:'#333','font-family':'Liberation Serif, serif'},g);
    tx.textContent=xTickLabels[i];
    
    
  });
  ticks.forEach((t,i)=>{
    const Y=sy(t);
    const gl=el('line',{x1:left,x2:left+w,y1:Y,y2:Y,stroke:'#bdbdbd','stroke-width':0.8,'stroke-dasharray':'5,2,1,2'},g);
    
    
    el('line',{x1:left-3,x2:left,y1:Y,y2:Y,stroke:'#555','stroke-width':0.8},g);
    const tx=el('text',{x:left-5,y:Y+4,'font-size':12.5,'text-anchor':'end',fill:'#333','font-family':'Liberation Serif, serif'},g);
    tx.textContent=tlabels[i];
    
    
  });
  data.forEach((vals,m)=>{
    const sg=el('g',{},g);
    
    
    const pts=vals.map((v,i)=>sx(xValues[i]).toFixed(1)+','+sy(v).toFixed(1)).join(' ');
    el('polyline',{points:pts,fill:'none',stroke:colors[m],'stroke-width':m===12?1.6:1.2},sg);
    vals.forEach((v,i)=>{
      const mk=marker(sg,markers[m],sx(xValues[i]),sy(v),colors[m]);
      
      
    });
  });
  el('rect',{x:left,y:top,width:w,height:h,fill:'none',stroke:'#555','stroke-width':1.2},g);
  const xl=el('text',{x:left+w/2,y:top+h+29,'font-size':12.5,'font-weight':'bold','text-anchor':'middle',fill:'#222','font-family':'Liberation Serif, serif'},g);
  xl.textContent=metricNames[idx];
  
  
}

for(let i=0;i<6;i++){
  drawPanel(i,1,row1Left[i],47,182,181,yDomainsRow1[i],yTicksRow1[i],yTickLabelsRow1[i],row1Data[i]);
  drawPanel(i,2,row2Left[i],267,186,187,yDomainsRow2[i],yTicksRow2[i],yTickLabelsRow2[i],row2Data[i]);
}
[139,361].forEach((cy,r)=>{
  const t=el('text',{x:0,y:0,transform:`translate(42,${cy}) rotate(-90)`,'font-size':21,'font-weight':'bold','text-anchor':'middle',fill:'#222','font-family':'Liberation Serif, serif',textLength:166,lengthAdjust:'spacingAndGlyphs'});
  t.textContent='Values of The Metric';
  
  
});

const legendLineX=[135,237,358,438,539,641,713,801,906,1005,1087,1166,1258];
const legendTextX=[173,279,395,475,573,675,751,839,944,1043,1123,1205,1297];
const lg=el('g',{});


el('rect',{x:126,y:10,width:1204,height:23,rx:3,fill:'#f4f4f4',stroke:'#d0d0d0','stroke-width':1},lg);
methods.forEach((m,i)=>{
  const eg=el('g',{},lg);
  
  
  el('line',{x1:legendLineX[i],x2:legendLineX[i]+28,y1:21.5,y2:21.5,stroke:colors[i],'stroke-width':1.3},eg);
  marker(eg,markers[i],legendLineX[i]+14,21.5,colors[i]);
  const t=el('text',{x:legendTextX[i],y:26,'font-size':13,'font-weight':'bold',fill:'#222','font-family':'Liberation Serif, serif'},eg);
  t.textContent=m;
});
</script>
</body></html>
